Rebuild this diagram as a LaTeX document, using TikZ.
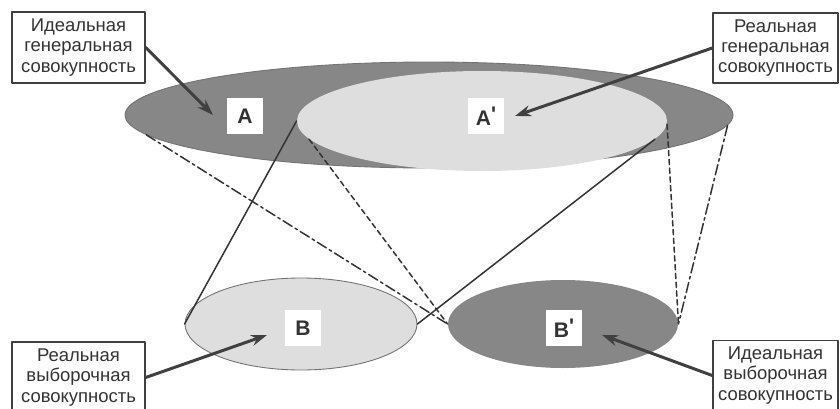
\documentclass[tikz,border=0pt]{standalone}
\usepackage{fontspec}
\setmainfont{Liberation Sans}
\usetikzlibrary{shapes.geometric}
\usetikzlibrary{arrows.meta}
\tikzstyle{every node}=[font=\fontsize{10.5}{11.6}\selectfont, text=black!80]
\newcommand{\prm}{\raisebox{0.35ex}{\textquotesingle}}

\begin{document}
\begin{tikzpicture}[line cap=round, line join=round]
		\tikzstyle{oval} = [ellipse, draw=black!55, line width=0.5pt, inner sep=0pt]
		\tikzstyle{dark} = [oval, fill=black!47]
		\tikzstyle{light} = [oval, fill=black!13]
		\tikzstyle{letter} = [fill=white, minimum size=0.72cm, inner sep=0pt, font=\fontsize{12}{12}\selectfont\bfseries]
		\tikzstyle{note} = [draw=black!75, line width=0.8pt, fill=white, align=center, inner sep=0pt]
		\tikzstyle{pointer} = [-{Stealth[length=3.2mm, width=2.2mm]}, line width=1.7pt, black!75]
		\tikzstyle{real} = [line width=0.85pt, black!80]
		\tikzstyle{ideal} = [real, dash pattern=on 6pt off 2pt on 1.5pt off 2pt]
		\tikzstyle{link} = [real, dash pattern=on 3pt off 2pt]
		
		\useasboundingbox (0,0) rectangle (16.8,8.16);
		
		\node[dark, minimum width=12.16cm, minimum height=2.12cm] (A) at (8.58,5.86) {};
		\node[light, draw=none, minimum width=7.40cm, minimum height=2.0cm] (A1) at (9.64,5.74) {};
		
		\node[light, minimum width=4.64cm, minimum height=1.84cm] (B) at (6.02,1.68) {};
		\node[dark, draw=none, minimum width=4.60cm, minimum height=1.76cm] (B1) at (11.26,1.68) {};
		
		\draw[real] (A1.west) -- (B.west);
		\draw[real] (A1.-6) -- (B.east);
		\draw[link] (A1.186) -- (B1.west);
		\draw[link] (A1.-1) -- (B1.east);
		\draw[ideal] (A.184) -- (B1.west);
		\draw[ideal] (A.-2) -- (B1.east);
		
		\node[letter] (a) at (4.90,5.84) {A};
		\node[letter] (a1) at (9.72,5.84) {A\prm};
		\node[letter] (b) at (6.06,1.60) {B};
		\node[letter] (b1) at (11.28,1.60) {B\prm};
		
		\node[note, minimum width=2.66cm, minimum height=1.42cm] (n1) at (1.57,7.21) {Идеальная\\генеральная\\совокупность};
		\node[note, minimum width=2.5cm, minimum height=1.4cm] (n2) at (15.51,7.20) {Реальная\\генеральная\\совокупность};
		\node[note, minimum width=2.66cm, minimum height=1.42cm] (n3) at (1.57,0.61) {Реальная\\выборочная\\совокупность};
		\node[note, minimum width=2.5cm, minimum height=1.4cm] (n4) at (15.51,0.65) {Идеальная\\выборочная\\совокупность};
		
		\coordinate (t1) at (4.26,5.86);
		\coordinate (t2) at (10.30,5.84);
		\coordinate (t3) at (5.34,1.46);
		\coordinate (t4) at (12.04,1.46);
		
		\draw[pointer] (n1.east) -- (t1);
		\draw[pointer] (n2.west) -- (t2);
		\draw[pointer] (n3.east) -- (t3);
		\draw[pointer] (n4.west) -- (t4);
		
	\end{tikzpicture}
\end{document}
